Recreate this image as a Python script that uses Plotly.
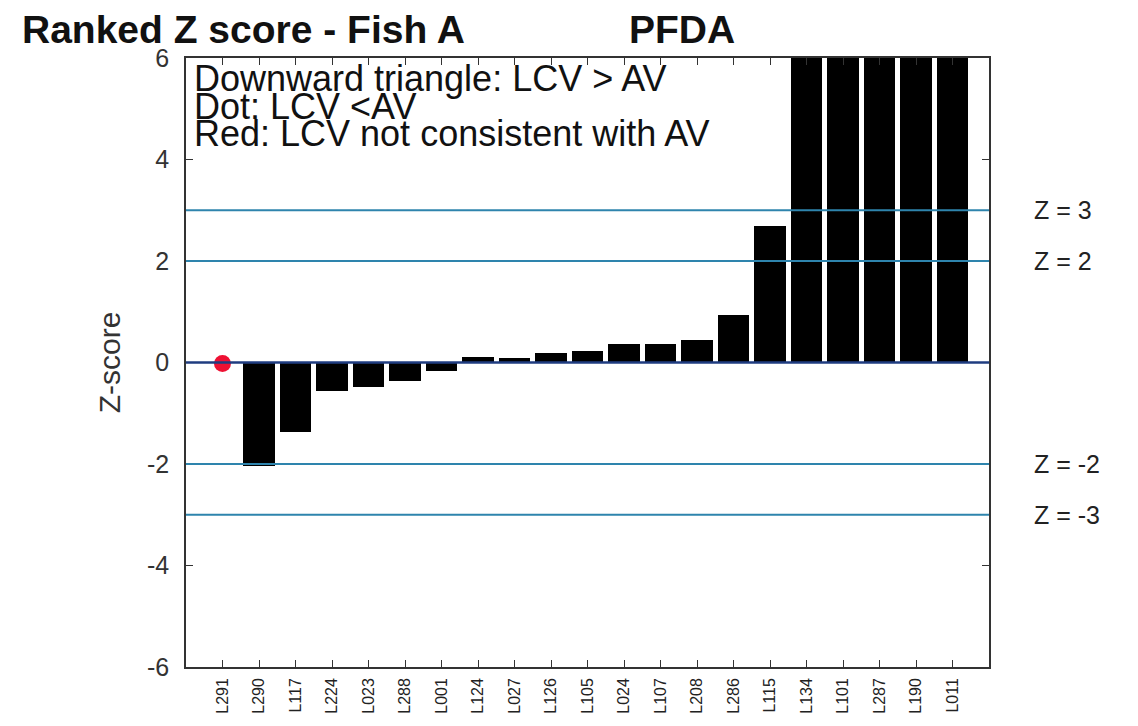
import plotly.graph_objects as go

labs = ["L291", "L290", "L117", "L224", "L023", "L288", "L001", "L124", "L027", "L126", "L105",
        "L024", "L107", "L208", "L286", "L115", "L134", "L101", "L287", "L190", "L011"]
zvals = [0.0, -2.04, -1.37, -0.56, -0.48, -0.36, -0.17, 0.10, 0.09, 0.19, 0.22,
         0.37, 0.37, 0.45, 0.93, 2.68, 7.5, 9.0, 11.0, 14.0, 18.0]
dot_labs = ["L291"]
dot_vals = [-0.02]
thr_vals = [3, 2, -2, -3]
thr_text = ["Z = 3", "Z = 2", "Z = -2", "Z = -3"]
notes = ["Downward triangle: LCV > AV", "Dot: LCV <AV", "Red: LCV not consistent with AV"]
note_y = [5.59, 5.04, 4.51]
ytick_vals = [-6, -4, -2, 0, 2, 4, 6]
ytick_text = ["-6", "-4", "-2", "0", "2", "4", "6"]

idx = list(range(len(labs)))
FONT = "Liberation Sans, Arial, sans-serif"

fig = go.Figure()
bar_x = [i for i, v in zip(idx, zvals) if v != 0]
bar_y = [v for v in zvals if v != 0]
fig.add_trace(go.Bar(x=bar_x, y=bar_y, width=0.87, marker=dict(color="black", line=dict(width=0)),
                     showlegend=False))

for t in thr_vals:
    fig.add_shape(type="line", xref="paper", x0=0, x1=1, y0=t, y1=t,
                  line=dict(color="#2e84ad", width=2), layer="above")
fig.add_shape(type="line", xref="paper", x0=0, x1=1, y0=0, y1=0,
              line=dict(color="#1f3c80", width=2.5), layer="above")

fig.add_trace(go.Scatter(x=[labs.index(l) for l in dot_labs], y=dot_vals, mode="markers",
                         marker=dict(color="#ee1133", size=17, symbol="circle"), showlegend=False))

for t, s in zip(thr_vals, thr_text):
    fig.add_annotation(x=1.054, xref="paper", y=t, yref="y", text=s, showarrow=False,
                       xanchor="left", yanchor="middle", font=dict(family=FONT, size=25, color="#222"))

for s, yy in zip(notes, note_y):
    fig.add_annotation(x=0.008, xref="paper", y=yy, yref="y", text=s, showarrow=False,
                       xanchor="left", yanchor="middle", font=dict(family=FONT, size=36, color="#111"))

fig.add_annotation(xref="x domain", yref="y domain", x=-0.207, y=1.046,
                   text="<b>Ranked Z score - Fish A</b>", showarrow=False,
                   xanchor="left", yanchor="middle", font=dict(family=FONT, size=39, color="#111"))
fig.add_annotation(xref="x domain", yref="y domain", x=0.618, y=1.046, text="<b>PFDA</b>", showarrow=False,
                   xanchor="center", yanchor="middle", font=dict(family=FONT, size=39, color="#111"))

fig.update_layout(
    width=1130, height=718,
    margin=dict(l=178, r=149, t=50, b=54),
    paper_bgcolor="white", plot_bgcolor="white",
    font=dict(family=FONT, color="#222"),
    bargap=0,
)
fig.update_xaxes(range=[-1, 21], tickmode="array", tickvals=idx, ticktext=labs, tickangle=-90,
                 tickfont=dict(size=16, color="#222"), ticks="inside", ticklen=7, tickcolor="#333",
                 ticklabelstandoff=3,
                 showline=True, linecolor="#333", linewidth=1.5, mirror="ticks", showgrid=False,
                 zeroline=False)
fig.update_yaxes(range=[-6, 6], tickmode="array", tickvals=ytick_vals, ticktext=ytick_text,
                 ticks="inside", ticklen=7, ticklabelstandoff=10,
                 tickcolor="#333", tickfont=dict(size=25, color="#333"), showline=True,
                 linecolor="#333", linewidth=1.5, mirror="ticks", showgrid=False, zeroline=False,
                 title=dict(text="Z-score", font=dict(size=30, color="#333"), standoff=18))

fig.write_html("out.html")
